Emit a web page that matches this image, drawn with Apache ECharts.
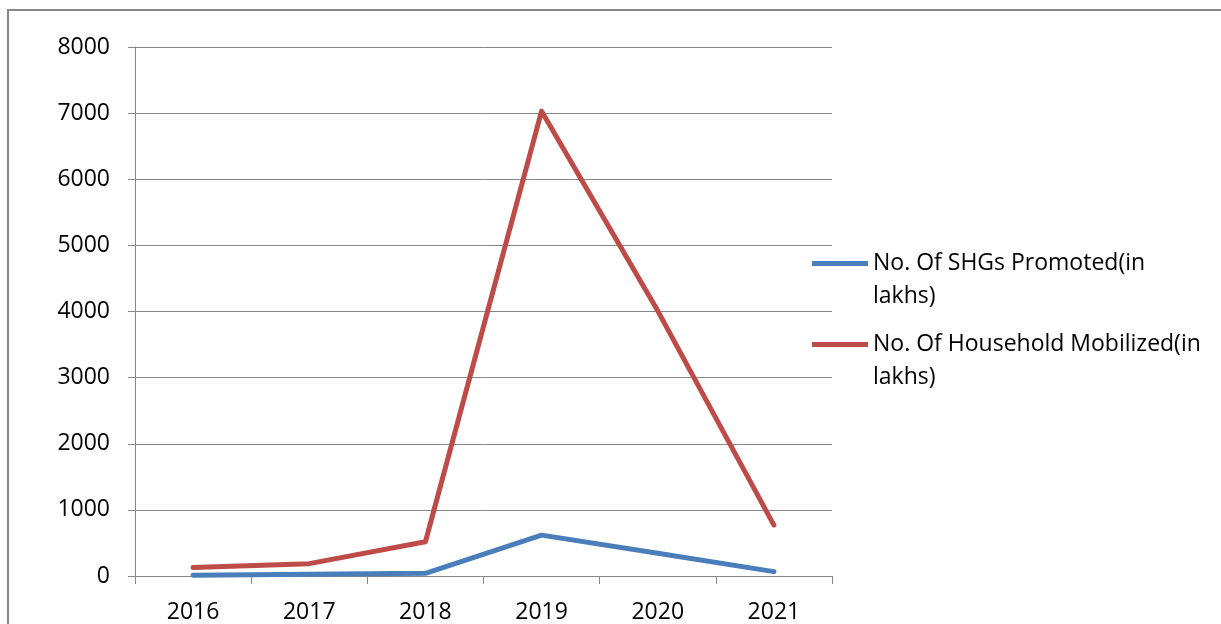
<!DOCTYPE html>
<html>
<head>
<meta charset="utf-8">
<script src="https://cdn.jsdelivr.net/npm/echarts@6/dist/echarts.min.js"></script>
<style>
  html, body { margin: 0; padding: 0; background: #fff; }
  #chart { width: 1221px; height: 624px; }
</style>
</head>
<body>
<div id="chart"></div>
<script>
// Years on the category axis
const years = ['2016', '2017', '2018', '2019', '2020', '2021'];
// Series values (in lakhs)
const shgsPromoted = [10, 25, 40, 618, 345, 66];
const householdsMobilized = [127, 187, 518, 7030, 4010, 770];
// Series names and colours
const seriesNames = ['No. Of SHGs Promoted(in lakhs)', 'No. Of Household Mobilized(in lakhs)'];
const seriesColors = ['#4a7ebb', '#be4b48'];
// Legend labels, wrapped onto two lines (leading blank line keeps the
// swatch level with the first line of text)
const legendLabels = {
  'No. Of SHGs Promoted(in lakhs)': '\nNo. Of SHGs Promoted(in\nlakhs)',
  'No. Of Household Mobilized(in lakhs)': '\nNo. Of Household Mobilized(in\nlakhs)'
};

const FONT = '"Open Sans", "Liberation Sans", sans-serif';
const GRID_COLOR = '#868686';

const chart = echarts.init(document.getElementById('chart'), null, { renderer: 'canvas' });

const valueSets = [shgsPromoted, householdsMobilized];

chart.setOption({
  animation: false,
  backgroundColor: '#ffffff',
  graphic: [{
    type: 'rect',
    shape: { x: 8, y: 10, width: 1240, height: 640 },
    style: { fill: 'none', stroke: '#878787', lineWidth: 2 },
    silent: true
  }],
  grid: { left: 135, top: 47, width: 697, height: 531, containLabel: false },
  legend: {
    orient: 'vertical',
    left: 812,
    top: 214,
    padding: 0,
    itemWidth: 56,
    itemHeight: 5,
    itemGap: -18,
    icon: 'rect',
    data: seriesNames,
    formatter: name => legendLabels[name],
    textStyle: {
      fontFamily: FONT,
      fontSize: 23,
      color: '#000',
      lineHeight: 33
    }
  },
  xAxis: {
    type: 'category',
    data: years,
    boundaryGap: true,
    axisLine: { show: true, lineStyle: { color: GRID_COLOR, width: 1 } },
    axisTick: { show: true, length: 8, interval: 0, lineStyle: { color: GRID_COLOR } },
    axisLabel: { fontFamily: FONT, fontSize: 23, color: '#000', margin: 25, interval: 0 },
    splitLine: { show: false }
  },
  yAxis: {
    type: 'value',
    min: 0,
    max: 8000,
    interval: 1000,
    axisLine: { show: true, lineStyle: { color: GRID_COLOR, width: 1 } },
    axisTick: { show: true, length: 7, lineStyle: { color: GRID_COLOR } },
    axisLabel: {
      fontFamily: FONT, fontSize: 23, color: '#000', margin: 25,
      formatter: v => String(v)
    },
    splitLine: { show: true, lineStyle: { color: GRID_COLOR, width: 1 } }
  },
  series: seriesNames.map((name, i) => ({
    name: name,
    type: 'line',
    data: valueSets[i],
    symbol: 'none',
    showSymbol: false,
    color: seriesColors[i],
    itemStyle: { color: seriesColors[i] },
    lineStyle: { color: seriesColors[i], width: 5, cap: 'round', join: 'round' }
  }))
});
</script>
</body>
</html>
